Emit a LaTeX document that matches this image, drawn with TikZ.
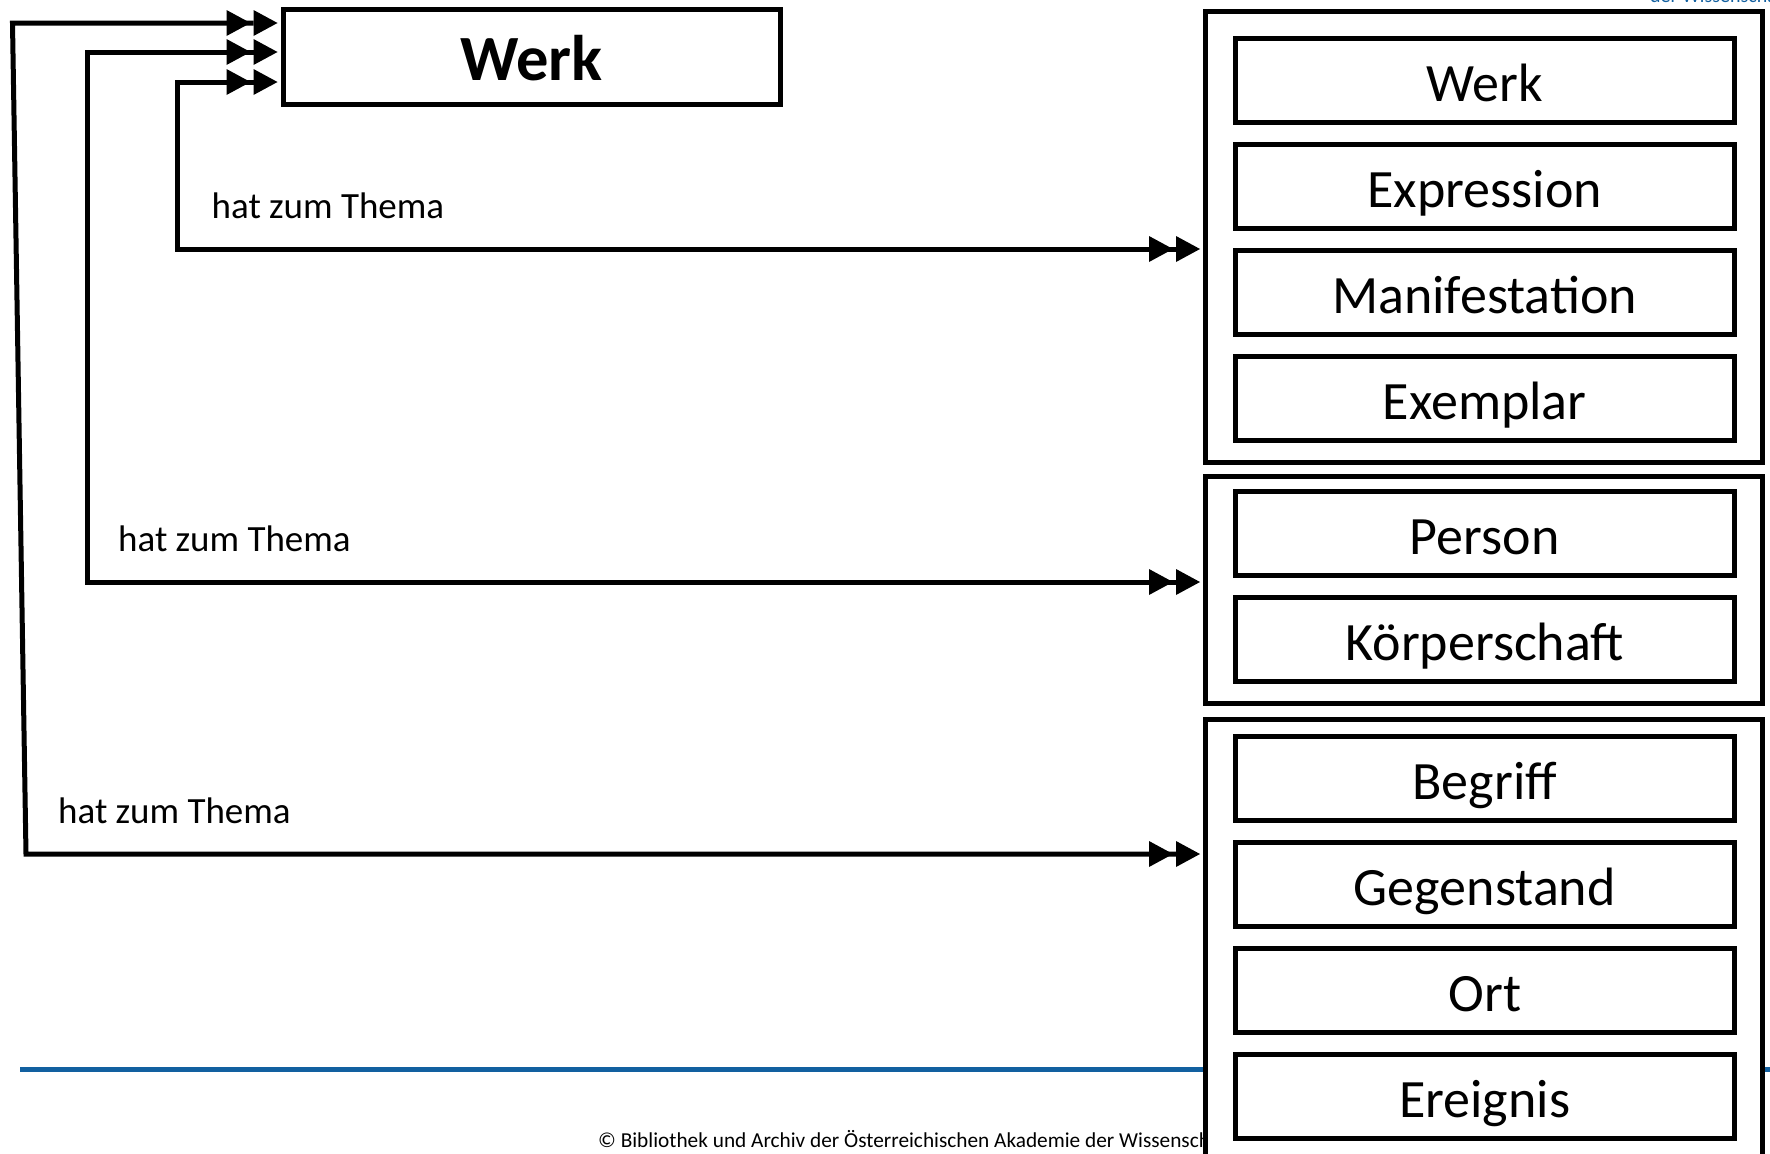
\documentclass[tikz,border=0pt]{standalone}
\usepackage{fontspec}
\setmainfont{Carlito}
\usetikzlibrary{arrows.meta}
\definecolor{oawblue}{RGB}{18,96,160}
\tikzset{
  dbl/.style={line width=5pt, line join=miter,
    arrows={Triangle[length=24pt,width=26pt,line width=0pt,sep=3pt]Triangle[length=24pt,width=26pt,line width=0pt,sep=3pt]-Triangle[length=24pt,width=26pt,line width=0pt,sep=3pt]Triangle[length=24pt,width=26pt,line width=0pt,sep=3pt]}},
  grp/.style={draw, fill=white, line width=5pt, minimum width=557pt, inner sep=0pt},
  item/.style={draw, fill=white, line width=5pt, minimum width=498.5pt, minimum height=84pt,
               inner sep=0pt, font=\fontsize{54}{60}\selectfont, text height=52pt, text depth=10pt},
  lbl/.style={anchor=base west, inner sep=0pt, font=\fontsize{37}{42}\selectfont},
}
\begin{document}
\begin{tikzpicture}[x=1pt,y=-1pt]
\useasboundingbox (0,0) rectangle (1770,1154);
\clip (0,0) rectangle (1770,1154);
\fill[white] (0,0) rectangle (1770,1154);
% footer decorations
\node[anchor=base west, inner sep=0pt, text=oawblue, font=\fontsize{20}{24}\selectfont] (hdr) at (1650,2) {der Wissenschaften};
\draw[oawblue, line width=5pt] (20,1069) -- (1770,1069);
\node[anchor=base west, inner sep=0pt, font=\fontsize{21.3}{24}\selectfont] (foot) at (598,1147) {© Bibliothek und Archiv der Österreichischen Akademie der Wissenschaften};
% main Werk box
\node[draw, line width=5pt, minimum width=497pt, minimum height=95pt, inner sep=0pt,
      font=\bfseries\fontsize{64.5}{70}\selectfont, text height=60pt, text depth=13pt] (werk) at (531.5,56.5) {Werk};
% group boxes
\node[grp, minimum height=451pt] (g1) at (1484,236.5) {};
\node[grp, minimum height=227pt] (g2) at (1484,589.5) {};
\node[grp, minimum height=461pt] (g3) at (1484,949.5) {};
% items
\node[item] (i1) at (1484.75,80) {Werk};
\node[item] (i2) at (1484.75,186) {Expression};
\node[item] (i3) at (1484.75,292) {Manifestation};
\node[item] (i4) at (1484.75,398) {Exemplar};
\node[item] (i5) at (1484.75,533) {Person};
\node[item] (i6) at (1484.75,639) {Körperschaft};
\node[item] (i7) at (1484.75,778) {Begriff};
\node[item] (i8) at (1484.75,884) {Gegenstand};
\node[item] (i9) at (1484.75,990) {Ort};
\node[item] (i10) at (1484.75,1096) {Ereignis};
% helper coordinates
\coordinate (ya) at (0,23);
\coordinate (yb) at (0,52);
\coordinate (yc) at (0,82);
\coordinate (l1) at (0,249);
\coordinate (l2) at (0,582);
\coordinate (l3) at (0,854);
% connectors
\draw[dbl] (werk.west |- yc) -- (177.5,82) -- (177.5,249) -- (g1.west |- l1);
\draw[dbl] (werk.west |- yb) -- (87,52) -- (87,582) -- (g2.west |- l2);
\draw[dbl] (werk.west |- ya) -- (12.5,23) -- (26,854) -- (g3.west |- l3);
% labels
\node[lbl] (t1) at (211.5,218) {hat zum Thema};
\node[lbl] (t2) at (118,551) {hat zum Thema};
\node[lbl] (t3) at (58,823) {hat zum Thema};
\end{tikzpicture}
\end{document}
